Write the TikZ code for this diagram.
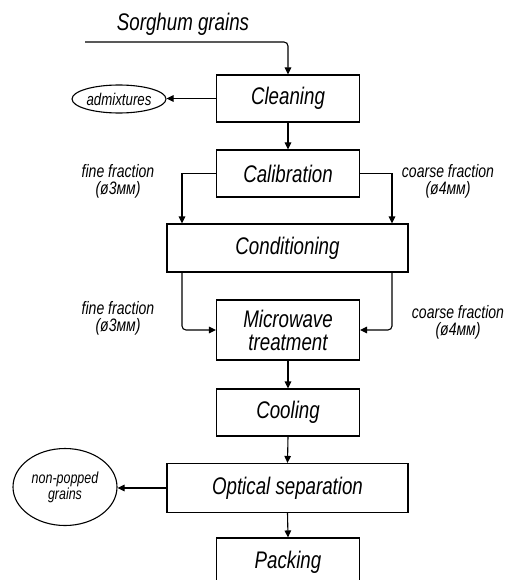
\documentclass[tikz,border=0pt]{standalone}
\usepackage{fontspec}
\setmainfont{Liberation Sans}[ItalicFeatures={FakeStretch=0.78}]
\usetikzlibrary{arrows.meta,shapes.geometric}
\tikzset{
  box/.style={draw, line width=1.1pt, rectangle, inner sep=0pt, font=\fontsize{24}{25}\selectfont\itshape},
  oval/.style={draw, line width=1.1pt, ellipse, inner sep=0pt, align=center},
  flow/.style={line width=1.1pt, -{Triangle[length=7pt,width=6.5pt]}},
  lbl/.style={align=center, font=\fontsize{18}{17}\selectfont\itshape, inner sep=0pt}
}
\begin{document}
\begin{tikzpicture}[x=1pt,y=-1pt]
\useasboundingbox (0,0) rectangle (513,580);
\node[lbl, font=\fontsize{24}{25}\selectfont\itshape] (sg) at (183,24) {Sorghum grains};
\coordinate (start) at (85,42);
\node[box, minimum width=143pt, minimum height=47pt] (clean) at (288,98.5) {Cleaning};
\node[oval, minimum width=94pt, minimum height=28pt, font=\fontsize{17}{17}\selectfont\itshape] (adm) at (119,99) {admixtures};
\node[box, minimum width=143pt, minimum height=47pt] (cal) at (288,173.5) {Calibration};
\node[box, minimum width=241pt, minimum height=48pt] (cond) at (287.5,248) {Conditioning};
\node[box, minimum width=143pt, minimum height=60pt, align=center, font=\fontsize{24}{23}\selectfont\itshape] (mw) at (288,330) {Microwave\\treatment};
\node[box, minimum width=143pt, minimum height=47pt] (cool) at (288,412.5) {Cooling};
\node[box, minimum width=241pt, minimum height=49pt] (opt) at (287.5,488) {Optical separation};
\node[oval, minimum width=104pt, minimum height=77pt, font=\fontsize{16}{14}\selectfont\itshape] (npg) at (65,487) {non-popped\\grains};
\node[box, minimum width=143pt, minimum height=48pt] (pack) at (288,562) {Packing};

\node[lbl] (ff1) at (118,181) {fine fraction\\(ø3мм)};
\node[lbl] (cf1) at (448,181) {coarse fraction\\(ø4мм)};
\node[lbl] (ff2) at (118,318) {fine fraction\\(ø3мм)};
\node[lbl] (cf2) at (458,322) {coarse fraction\\(ø4мм)};

\draw[flow, rounded corners=4pt] (start) -| (clean.north);
\draw[flow] (clean.west) -- (clean.west -| adm.east);
\draw[flow] (clean.south) -- (cal.north);
\draw[flow] (cal.west) -| (cond.north west -| 182,0);
\draw[flow] (cal.east) -| (cond.north east -| 392,0);
\draw[flow, rounded corners=4pt] (cond.south west -| 182,0) |- (mw.west);
\draw[flow, rounded corners=4pt] (cond.south east -| 392,0) |- (mw.east);
\draw[flow] (mw.south) -- (cool.north);
\draw[flow] (cool.south) -- (opt.north);
\draw[flow] (opt.west) -- (opt.west -| npg.east);
\draw[flow] (opt.south) -- (pack.north);
\end{tikzpicture}
\end{document}
